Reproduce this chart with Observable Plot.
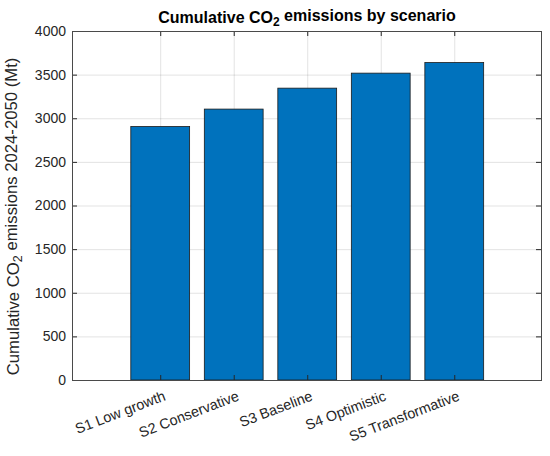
<!DOCTYPE html>
<html>
<head>
<meta charset="utf-8">
<script src="https://cdn.jsdelivr.net/npm/d3@7"></script>
<script src="https://cdn.jsdelivr.net/npm/@observablehq/plot@0.6"></script>
<style>
  html, body { margin: 0; padding: 0; background: #fff; }
  #chart { width: 550px; height: 456px; }
</style>
</head>
<body>
<div id="chart"></div>
<script>
const categories = ["S1 Low growth", "S2 Conservative", "S3 Baseline", "S4 Optimistic", "S5 Transformative"];
const values = [2905, 3105, 3345, 3517, 3638];
const yTicks = [0, 500, 1000, 1500, 2000, 2500, 3000, 3500, 4000];
const titleParts = ["Cumulative CO", "2", " emissions by scenario"];
const yLabelParts = ["Cumulative CO", "2", " emissions 2024-2050 (Mt)"];

const data = categories.map((c, i) => ({pos: i + 1, name: c, value: values[i]}));
const positions = data.map(d => d.pos);

const W = 550, H = 456;
const mt = 31, mb = 76, ml = 72, mr = 9;
const xDomain = [-0.2, 6.18];
const yDomain = [0, 4000];
const tickPx = 5;
const tickY = tickPx * (yDomain[1] - yDomain[0]) / (H - mt - mb);
const tickX = tickPx * (xDomain[1] - xDomain[0]) / (W - ml - mr);
const axisColor = "#262626";
const font = "Liberation Sans, Arial, Helvetica, sans-serif";

const titleText = titleParts.join("");
const yLabelText = yLabelParts.join("");

const plot = Plot.plot({
  width: W,
  height: H,
  marginTop: mt,
  marginBottom: mb,
  marginLeft: ml,
  marginRight: mr,
  style: {fontFamily: font, background: "#fff", overflow: "visible"},
  x: {domain: xDomain, axis: null},
  y: {domain: yDomain, axis: null},
  marks: [
    Plot.gridX(positions, {stroke: "#262626", strokeOpacity: 0.13}),
    Plot.gridY(yTicks, {stroke: "#262626", strokeOpacity: 0.13}),
    Plot.rectY(data, {
      x1: d => d.pos - 0.4,
      x2: d => d.pos + 0.4,
      y1: 0,
      y2: "value",
      fill: "#0072BD",
      stroke: "#1a1a1a",
      strokeWidth: 0.8
    }),
    // inward ticks on all four sides
    Plot.ruleX(positions, {y1: yDomain[0], y2: yDomain[0] + tickY, stroke: axisColor}),
    Plot.ruleX(positions, {y1: yDomain[1] - tickY, y2: yDomain[1], stroke: axisColor}),
    Plot.ruleY(yTicks, {x1: xDomain[0], x2: xDomain[0] + tickX, stroke: axisColor}),
    Plot.ruleY(yTicks, {x1: xDomain[1] - tickX, x2: xDomain[1], stroke: axisColor}),
    Plot.frame({stroke: "#4a4a4a", strokeWidth: 1}),
    // y tick labels
    Plot.text(yTicks, {
      y: d => d, frameAnchor: "left", text: d => String(d),
      textAnchor: "end", dx: -6.5, fontSize: 14, fill: axisColor
    }),
    // x tick labels
    Plot.text(data, {
      x: "pos", frameAnchor: "bottom", text: "name",
      textAnchor: "end", lineAnchor: "middle", rotate: -21,
      dx: 4, dy: 15, fontSize: 14.4, fill: axisColor
    }),
    // title
    Plot.text([titleText], {
      frameAnchor: "top", textAnchor: "middle", lineAnchor: "bottom",
      dy: -9, fontSize: 16, fontWeight: "bold", fill: "#000"
    }),
    // y label
    Plot.text([yLabelText], {
      frameAnchor: "left", textAnchor: "middle", lineAnchor: "bottom",
      rotate: -90, dx: -54, dy: 10.5, fontSize: 16.7, fill: axisColor
    })
  ]
});

// Add subscripts to title and y label
function subscriptify(full, parts) {
  d3.select(plot).selectAll("text").each(function() {
    if (this.textContent === full) {
      const t = d3.select(this);
      t.text(null);
      t.append("tspan").text(parts[0]);
      t.append("tspan").attr("dy", "0.3em").attr("font-size", "0.75em").text(parts[1]);
      t.append("tspan").attr("dy", "-0.3em").text(parts[2]);
    }
  });
}
subscriptify(titleText, titleParts);
subscriptify(yLabelText, yLabelParts);

document.getElementById("chart").appendChild(plot);
</script>
</body>
</html>
